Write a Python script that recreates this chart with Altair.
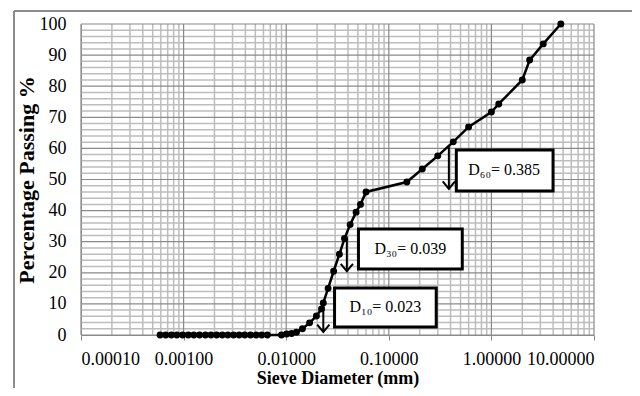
import altair as alt
import pandas as pd

# ---- data ----
diameter_mm = [0.00059, 0.00067, 0.00076, 0.00086, 0.00098, 0.00111, 0.00126, 0.00143,
               0.00163, 0.00185, 0.00210, 0.00238, 0.00270, 0.00307, 0.00348, 0.00395,
               0.00449, 0.00509, 0.00578, 0.00656,
               0.0090, 0.0101, 0.0113, 0.0126, 0.0144, 0.0169, 0.0197, 0.0221, 0.0230,
               0.0256, 0.0290, 0.0330, 0.0370, 0.0420, 0.0480, 0.0530, 0.0600,
               0.150, 0.212, 0.300, 0.425, 0.600, 1.00, 1.18, 2.00, 2.36, 3.20, 4.75]
passing_pct = [0, 0, 0, 0, 0, 0, 0, 0, 0, 0, 0, 0, 0, 0, 0, 0, 0, 0, 0, 0,
               0, 0.3, 0.5, 0.9, 2.0, 3.9, 6.1, 8.4, 10.3,
               15.0, 20.5, 26.0, 31.0, 35.5, 39.5, 42.0, 46.0,
               49.2, 53.4, 57.6, 62.1, 66.9, 71.7, 74.3, 82.0, 88.4, 93.6, 100.0]

x_ticks = [0.0001, 0.001, 0.01, 0.1, 1.0, 10.0]
y_ticks = [0, 10, 20, 30, 40, 50, 60, 70, 80, 90, 100]

# annotations: label, arrow x, arrow top, arrow bottom, box x1, x2, y1, y2, text x, text y
ann_labels = ["D\u2086\u2080= 0.385", "D\u2083\u2080= 0.039", "D\u2081\u2080= 0.023"]
ann_arrow_x = [0.385, 0.039, 0.023]
ann_arrow_top = [60.5, 31.0, 11.0]
ann_arrow_bot = [47.0, 20.5, 1.0]
ann_box_x1 = [0.455, 0.0506, 0.0296]
ann_box_x2 = [3.99, 0.520, 0.290]
ann_box_y1 = [59.5, 34.1, 15.1]
ann_box_y2 = [46.3, 21.2, 2.6]
ann_text_x = [1.33, 0.162, 0.0927]
ann_text_y = [53.0, 27.7, 8.9]

FONT = "Liberation Serif"
MAJ = "#8a8a8a"
MIN = "#bdbdbd"

curve = pd.DataFrame({"x": diameter_mm, "y": passing_pct})
ann = pd.DataFrame({"label": ann_labels, "x": ann_arrow_x, "at": ann_arrow_top,
                    "ab": ann_arrow_bot, "bx1": ann_box_x1, "bx2": ann_box_x2,
                    "by1": ann_box_y1, "by2": ann_box_y2, "tx": ann_text_x,
                    "ty": ann_text_y})

# grid lines
x_minor = [m * 10.0 ** k for k in range(-4, 1) for m in range(2, 10)]
y_minor = [v for v in range(2, 100, 2) if v % 10 != 0]
gx_min = pd.DataFrame({"x": x_minor})
gy_min = pd.DataFrame({"y": y_minor})
gx_maj = pd.DataFrame({"x": x_ticks})
gy_maj = pd.DataFrame({"y": y_ticks})

xscale = alt.Scale(type="log", domain=[0.0001, 10], nice=False)
yscale = alt.Scale(domain=[0, 100], nice=False)
XT = "Sieve Diameter (mm)"
YT = "Percentage Passing %"
xaxis = alt.Axis(values=x_ticks, format=".5f", grid=False, tickSize=5, tickColor=MAJ,
                 domainColor=MAJ, labelPadding=10, titlePadding=1)
yaxis = alt.Axis(values=y_ticks, grid=False, ticks=False, domainColor=MAJ,
                 labelPadding=15, titlePadding=1, titleFontSize=22)


def X(field):
    return alt.X(field, type="quantitative", scale=xscale, axis=xaxis, title=XT)


def Y(field):
    return alt.Y(field, type="quantitative", scale=yscale, axis=yaxis, title=YT)


vx_min = alt.Chart(gx_min).mark_rule(color=MIN, strokeWidth=1.5).encode(x=X("x"))
vy_min = alt.Chart(gy_min).mark_rule(color=MIN, strokeWidth=1.5).encode(y=Y("y"))
vx_maj = alt.Chart(gx_maj).mark_rule(color=MAJ, strokeWidth=1.2).encode(x=X("x"))
vy_maj = alt.Chart(gy_maj).mark_rule(color=MAJ, strokeWidth=1.2).encode(y=Y("y"))

base = alt.Chart(curve).encode(x=X("x"), y=Y("y"))
line = base.mark_line(color="black", strokeWidth=2.5)
pts = base.mark_circle(color="black", size=48, opacity=1)

arrow_shaft = alt.Chart(ann).mark_rule(color="black", strokeWidth=2).encode(
    x=X("x"), y=Y("at"), y2="ab:Q")
arrow_head = alt.Chart(ann).mark_point(
    shape="M-1,-1.2L0,0L1,-1.2", size=150, color="black", filled=False,
    strokeWidth=2, opacity=1).encode(x=X("x"), y=Y("ab"))
boxes = alt.Chart(ann).mark_rect(fill="white", stroke="black", strokeWidth=3).encode(
    x=X("bx1"), x2="bx2:Q", y=Y("by1"), y2="by2:Q")
texts = alt.Chart(ann).mark_text(font=FONT, fontSize=16, color="black").encode(
    x=X("tx"), y=Y("ty"), text="label:N")

frame_top = alt.Chart(gy_maj).mark_rule(color="#8c8c8c", strokeWidth=2).encode(
    x=alt.value(-67), x2=alt.value(700), y=alt.value(-13))
frame_left = alt.Chart(gy_maj).mark_rule(color="#8c8c8c", strokeWidth=2).encode(
    x=alt.value(-67), y=alt.value(-13), y2=alt.value(500))

chart = alt.layer(
    vx_min, vy_min, vx_maj, vy_maj, line, pts, arrow_shaft, arrow_head, boxes, texts,
    frame_top, frame_left
).properties(
    width=513, height=311, autosize="none",
    padding={"left": 73, "top": 16, "right": 38, "bottom": 53},
).configure_view(stroke=None).configure_axis(
    labelFont=FONT, labelFontSize=18, labelColor="black",
    titleFont=FONT, titleFontSize=18, titleFontWeight="bold", titleColor="black",
)

chart.save("out.html", embed_options={"renderer": "svg", "actions": False})
